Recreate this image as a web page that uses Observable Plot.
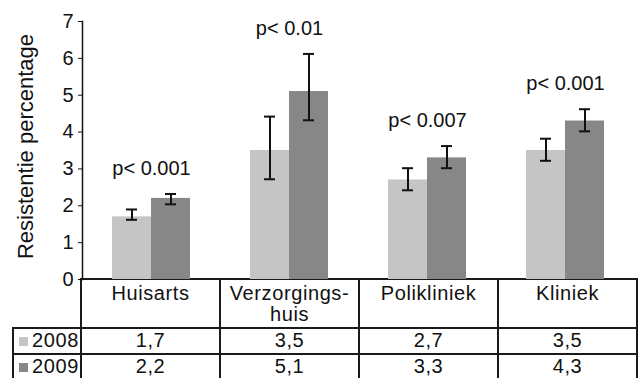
<!DOCTYPE html>
<html><head><meta charset="utf-8">
<script src="https://cdn.jsdelivr.net/npm/d3@7"></script>
<script src="https://cdn.jsdelivr.net/npm/@observablehq/plot@0.6"></script>
<style>
body{margin:0;background:#fff;font-family:"Liberation Sans",Arial,sans-serif;}
#wrap{position:relative;width:638px;height:378px;overflow:hidden;background:#fff;}
#chart{position:absolute;left:0;top:0;z-index:2;}
#chart svg{overflow:visible;}
#tbl{position:absolute;top:278px;left:12px;border-collapse:collapse;table-layout:fixed;font-size:20px;letter-spacing:0.6px;color:#111;z-index:1;}
#tbl td{border:2px solid #1a1a1a;text-align:center;padding:0;overflow:hidden;white-space:nowrap;}
#tbl tr.head td{vertical-align:top;line-height:21px;padding-top:3px;height:44px;}
#tbl tr.head td.corner{border-top:none;border-left:none;}
#tbl tr.row td{height:23px;line-height:21px;vertical-align:top;padding-top:1px;}
#tbl td.leg{text-align:right;padding-right:1px;}
.sw{display:inline-block;width:9px;height:9px;margin-right:4px;vertical-align:1px;}
</style></head>
<body>
<div id="wrap"><div id="chart"></div></div>
<script>
const categories = ["Huisarts", "Verzorgingshuis", "Polikliniek", "Kliniek"];
const headerLabels = ["Huisarts", "Verzorgings-\nhuis", "Polikliniek", "Kliniek"];
const years = ["2008", "2009"];
const values2008 = [1.7, 3.5, 2.7, 3.5];
const values2009 = [2.2, 5.1, 3.3, 4.3];
const low2008 = [1.62, 2.72, 2.42, 3.22];
const high2008 = [1.9, 4.42, 3.02, 3.82];
const low2009 = [2.04, 4.32, 3.02, 4.02];
const high2009 = [2.32, 6.12, 3.62, 4.62];
const pLabels = ["p< 0.001", "p< 0.01", "p< 0.007", "p< 0.001"];
const yTicks = [0, 1, 2, 3, 4, 5, 6, 7];
const yLabel = "Resistentie percentage";
const colors = ["#c5c5c5", "#878787"];

const rows = [];
categories.forEach((c, i) => {
  rows.push({cat: c, year: years[0], value: values2008[i], low: low2008[i], high: high2008[i]});
  rows.push({cat: c, year: years[1], value: values2009[i], low: low2009[i], high: high2009[i]});
});
const pRows = categories.map((c, i) => ({cat: c, label: pLabels[i], top: Math.max(high2008[i], high2009[i])}));

const chart = Plot.plot({
  width: 638,
  height: 280,
  marginLeft: 80,
  marginRight: 3,
  marginTop: 21,
  marginBottom: 1,
  style: {fontFamily: "'Liberation Sans', Arial, sans-serif", color: "#111", background: "transparent", overflow: "visible"},
  fx: {domain: categories, padding: 0, axis: null, label: null},
  x: {domain: years, paddingInner: 0, paddingOuter: 0.734, axis: null, label: null},
  y: {domain: [0, 7], axis: null},
  color: {domain: years, range: colors},
  marks: [
    Plot.barY(rows, {fx: "cat", x: "year", y: "value", fill: "year"}),
    Plot.ruleX(rows, {fx: "cat", x: "year", y1: "low", y2: "high", stroke: "#111", strokeWidth: 2}),
    Plot.tickY(rows, {fx: "cat", x: "year", y: "low", insetLeft: 14, insetRight: 14, stroke: "#111", strokeWidth: 2}),
    Plot.tickY(rows, {fx: "cat", x: "year", y: "high", insetLeft: 14, insetRight: 14, stroke: "#111", strokeWidth: 2}),
    Plot.text(pRows, {fx: "cat", y: "top", text: "label", dy: -19, lineAnchor: "bottom", fontSize: 20, fill: "#111"}),
    Plot.axisY({ticks: yTicks, tickFormat: d => String(d), tickSize: 4, tickPadding: 5, fontSize: 20, label: null, stroke: "#111"}),
    Plot.frame({anchor: "left", facetAnchor: "left", stroke: "#111", strokeWidth: 1.5}),
    Plot.text([yLabel], {frameAnchor: "left", facetAnchor: "left", rotate: -90, textAnchor: "middle", dx: -65, dy: -4, lineAnchor: "top", fontSize: 22, fill: "#111"})
  ]
});
document.getElementById("chart").appendChild(chart);

// data table below the chart
const fmt = v => String(v).replace(".", ",");
const table = d3.select("#wrap").append("table").attr("id", "tbl");
const cg = table.append("colgroup");
cg.append("col").style("width", "68px");
categories.forEach(() => cg.append("col").style("width", "139px"));
const head = table.append("tr").attr("class", "head");
head.append("td").attr("class", "corner");
headerLabels.forEach(h => head.append("td").html(h.split("\n").join("<br>")));
[values2008, values2009].forEach((vals, k) => {
  const tr = table.append("tr").attr("class", "row");
  const leg = tr.append("td").attr("class", "leg");
  leg.append("span").attr("class", "sw").style("background", colors[k]);
  leg.append("span").text(years[k]);
  vals.forEach(v => tr.append("td").text(fmt(v)));
});
</script>
</body></html>
